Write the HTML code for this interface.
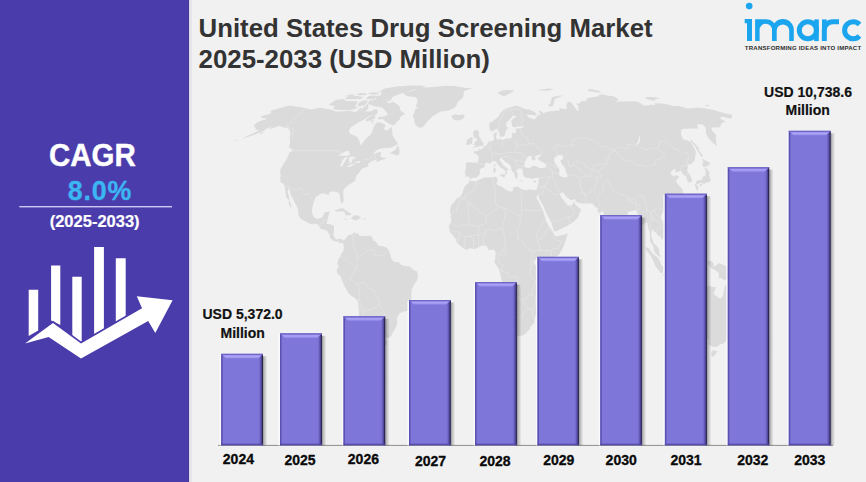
<!DOCTYPE html>
<html><head><meta charset="utf-8"><style>
html,body{margin:0;padding:0}
body{width:866px;height:482px;overflow:hidden;background:#f1f1f1;font-family:"Liberation Sans",sans-serif}
svg{display:block}
text{font-family:"Liberation Sans",sans-serif;font-weight:bold}
.yr{font-size:14px;fill:#0a0a0a;stroke:#0a0a0a;stroke-width:0.3px;text-anchor:middle}
.val{font-size:14px;fill:#111;stroke:#111;stroke-width:0.2px;text-anchor:middle}
</style></head><body>
<svg width="866" height="482" viewBox="0 0 866 482">
<defs>
<filter id="sh" x="-20%" y="-5%" width="140%" height="110%"><feGaussianBlur stdDeviation="1.3"/></filter>
<linearGradient id="body" x1="0" x2="1" y1="0" y2="0">
 <stop offset="0" stop-color="#786ed6"/><stop offset="0.5" stop-color="#7c73da"/><stop offset="1" stop-color="#776dd4"/>
</linearGradient>
<linearGradient id="redge" x1="0" x2="1" y1="0" y2="0">
 <stop offset="0" stop-color="#7e76d8" stop-opacity="0"/><stop offset="0.45" stop-color="#6a61c0"/><stop offset="0.72" stop-color="#4a4290"/><stop offset="0.85" stop-color="#2c2752"/><stop offset="1" stop-color="#262145"/>
</linearGradient>
<linearGradient id="shg" x1="0" x2="1" y1="0" y2="0">
 <stop offset="0" stop-color="#000" stop-opacity="0.38"/><stop offset="0.4" stop-color="#000" stop-opacity="0.18"/><stop offset="1" stop-color="#000" stop-opacity="0"/>
</linearGradient>
<linearGradient id="tbev" x1="0" x2="0" y1="0" y2="1">
 <stop offset="0" stop-color="#958ce8"/><stop offset="0.4" stop-color="#aca4f8"/><stop offset="0.75" stop-color="#9a92ec"/><stop offset="1" stop-color="#8179dc"/>
</linearGradient>
</defs>
<rect width="866" height="482" fill="#f1f1f1"/>
<!-- map -->
<path d="M261.3,116.1 265.5,115.0 269.7,114.2 271.4,111.9 270.1,111.0 277.6,108.7 286.0,106.3 290.4,105.4 294.7,106.3 300.7,107.3 305.8,108.3 310.6,109.6 320.3,107.7 325.6,108.7 331.0,109.6 335.5,111.5 341.9,111.5 349.2,110.6 354.5,111.9 360.7,110.6 363.5,107.3 366.9,104.8 368.4,104.1 368.4,105.5 368.3,107.3 367.8,109.0 365.0,111.5 370.2,111.5 376.1,108.7 377.9,111.5 376.6,114.4 370.0,115.4 364.6,119.3 358.6,122.3 350.9,127.3 349.0,130.4 349.8,133.6 354.3,135.6 357.7,137.3 359.7,142.0 360.8,145.8 365.7,138.8 370.8,134.6 372.9,129.4 374.2,125.7 376.9,122.3 381.5,122.7 385.5,125.3 384.1,129.4 387.1,130.4 391.7,126.7 392.3,131.5 392.7,135.6 393.9,137.7 396.8,142.0 397.9,144.1 395.5,145.4 390.1,148.0 384.0,148.0 379.9,148.8 376.3,150.6 372.8,153.9 381.2,151.7 380.4,154.9 380.9,157.1 385.3,158.0 387.2,157.1 385.0,158.9 380.7,160.2 376.4,162.4 376.8,159.3 375.3,160.0 372.1,161.1 369.5,162.4 367.8,164.8 368.5,166.6 365.9,167.3 361.3,169.0 360.3,171.5 358.5,173.0 355.7,177.0 355.4,180.8 352.5,182.6 349.5,184.2 344.5,188.2 343.1,191.5 343.5,197.1 343.7,200.5 342.5,203.4 341.2,202.9 340.4,199.8 339.8,197.1 339.8,194.5 338.4,192.7 335.3,191.8 332.1,191.3 329.3,192.2 329.3,194.7 327.2,194.5 324.8,193.6 321.5,193.6 319.6,194.5 315.5,197.6 313.9,201.8 312.7,206.1 312.0,209.4 312.3,213.7 313.6,216.8 315.5,218.1 317.1,219.0 320.7,218.1 322.5,217.2 324.1,213.2 324.9,212.3 330.1,211.7 328.8,215.0 327.8,218.8 326.3,223.9 330.3,224.2 333.9,225.7 334.0,230.7 333.3,235.1 336.0,239.6 340.4,238.5 344.1,240.7 342.8,242.9 340.2,242.9 338.4,243.4 339.4,241.2 336.8,241.8 333.3,240.7 329.7,237.4 329.7,234.7 327.1,230.7 323.7,229.5 320.3,228.4 318.1,224.8 315.7,223.5 312.1,224.6 308.8,223.3 304.8,221.0 300.8,218.8 298.2,215.0 298.4,211.7 297.4,207.6 295.5,203.8 293.8,200.5 292.0,197.1 290.3,193.8 289.8,190.0 288.1,188.6 287.6,191.5 288.9,196.0 289.5,200.5 291.0,205.0 291.7,208.3 290.7,207.2 288.6,204.3 289.0,200.5 286.1,197.1 285.6,192.7 284.8,187.1 283.7,183.7 280.7,182.4 280.3,178.2 280.6,175.3 280.1,171.5 280.4,169.3 282.4,165.9 285.1,161.5 287.8,156.7 289.7,151.9 292.1,151.7 292.2,149.5 290.6,148.4 288.8,146.7 290.0,144.1 290.2,139.9 289.6,137.7 290.4,133.6 289.6,130.4 287.1,127.7 282.6,127.3 279.4,125.7 272.7,128.2 268.7,129.0 271.8,126.3 266.5,128.8 262.4,131.5 257.4,133.6 252.4,135.6 247.3,137.1 242.4,138.4 246.9,136.1 254.9,132.5 259.6,130.0 255.6,129.8 255.6,127.7 253.8,126.3 254.8,124.3 259.4,121.3 266.8,119.3 265.5,118.1 261.1,118.1ZM344.1,240.5 345.6,238.5 347.5,236.2 348.8,234.9 351.9,234.5 354.7,232.0 355.3,233.6 356.9,233.8 357.3,232.4 359.7,236.0 364.0,236.0 367.5,235.8 371.0,235.8 372.6,238.5 373.4,240.7 375.9,241.8 378.4,245.8 382.8,246.3 386.2,247.4 388.8,249.9 390.4,255.2 391.3,258.6 393.9,261.9 398.3,261.9 401.8,265.3 405.3,266.0 409.7,266.4 413.2,269.8 417.1,271.5 418.0,276.5 417.4,279.8 414.4,284.3 412.0,288.7 411.3,293.2 411.3,298.8 410.3,304.4 408.9,308.9 407.3,311.1 403.1,311.8 399.8,313.3 396.9,317.8 397.2,323.4 395.6,327.9 392.4,333.4 391.2,336.1 389.0,337.9 387.3,337.7 383.4,336.8 385.9,340.8 387.0,341.5 386.5,345.0 384.3,346.1 379.6,346.8 380.0,350.1 376.0,351.3 378.6,354.6 378.6,360.1 375.9,363.4 379.3,366.6 377.5,371.4 377.9,374.8 379.3,376.3 380.9,380.6 385.7,381.2 384.2,383.7 379.3,381.7 374.3,378.5 369.9,375.3 364.7,366.6 365.4,362.3 363.0,357.9 363.1,353.5 360.7,346.8 360.3,342.4 360.2,337.9 360.7,333.4 359.4,326.7 359.1,320.0 359.0,313.3 358.5,304.4 357.6,300.6 354.7,298.1 349.1,293.9 346.6,289.9 344.2,285.4 341.1,277.6 339.3,275.3 337.1,273.1 336.8,269.3 338.5,267.3 338.6,265.3 337.2,264.2 338.0,260.8 338.9,258.6 340.7,256.3 341.0,254.1 343.4,251.2 343.9,246.3 342.9,243.6ZM470.0,179.7 468.1,183.7 465.4,185.5 463.0,190.4 463.2,191.8 460.2,196.7 457.2,198.3 454.6,201.2 450.9,206.1 449.9,211.7 451.1,214.6 450.6,216.4 451.3,219.5 450.7,222.8 448.5,226.9 449.6,229.5 449.6,232.2 451.8,234.0 453.5,236.2 455.7,239.1 456.9,242.9 460.3,245.8 465.5,249.9 469.9,248.3 475.1,249.0 480.4,246.3 483.9,245.4 486.5,245.8 488.7,250.1 490.8,249.9 493.5,249.6 495.2,251.2 495.7,254.1 495.2,257.5 494.9,260.8 494.0,261.9 496.9,265.7 499.2,269.3 499.9,272.9 501.6,279.4 502.7,283.8 500.4,289.9 499.2,298.4 501.2,303.3 503.8,310.6 504.9,320.0 507.0,323.6 508.3,327.9 509.7,333.0 509.9,336.1 512.5,337.5 516.7,335.7 521.7,335.7 524.2,334.6 526.8,332.3 529.5,329.4 531.3,325.6 534.0,323.4 534.7,318.2 535.1,316.2 539.3,313.6 539.3,308.9 538.6,304.4 541.6,301.7 546.1,297.7 548.8,293.2 549.1,284.3 547.4,277.6 547.5,273.1 547.0,270.2 549.3,265.3 551.1,263.5 553.7,258.6 558.9,254.6 562.4,249.0 564.9,242.9 567.0,236.2 567.8,233.3 563.8,234.7 556.0,236.5 553.7,234.0 553.0,231.8 551.2,229.3 548.5,225.7 546.4,221.7 544.7,216.8 543.7,212.8 542.7,210.1 540.7,206.1 538.1,200.7 535.5,196.2 534.0,192.9 535.1,195.8 536.9,197.6 537.9,193.8 536.6,189.8 533.3,190.0 529.4,189.3 526.1,190.4 521.1,189.1 517.7,186.6 513.0,187.5 512.8,190.9 510.3,191.8 505.2,189.3 501.0,186.2 497.7,185.3 496.4,183.3 497.7,180.4 496.6,177.3 495.2,176.4 492.8,177.3 487.9,177.5 484.6,177.5 479.7,179.5 476.0,181.3 471.4,181.0ZM564.3,286.5 565.9,294.3 564.3,297.7 562.1,305.5 559.3,315.1 555.8,316.9 553.9,314.4 553.0,308.9 554.9,304.4 554.6,298.8 557.4,295.5 560.9,292.8 562.8,289.9ZM470.5,179.3 469.4,177.5 467.7,176.6 465.2,177.0 465.6,173.7 464.5,173.0 465.7,169.3 466.1,165.9 465.5,163.7 467.7,162.2 472.4,162.6 477.4,162.8 478.3,160.4 478.7,156.7 477.2,154.7 473.8,153.0 473.5,151.7 476.2,151.0 478.3,151.2 478.9,149.1 481.1,149.5 483.2,148.0 483.6,146.3 486.3,145.4 487.9,143.1 488.7,141.4 491.6,140.9 493.8,140.7 494.0,137.9 493.5,134.6 494.0,133.4 496.8,132.1 496.8,134.6 496.0,136.7 497.2,139.9 499.7,138.8 502.7,140.1 505.6,138.8 508.5,138.2 510.0,139.0 512.0,136.7 511.8,134.0 513.2,132.5 515.4,133.6 516.3,130.9 515.0,129.0 518.4,128.2 521.2,128.2 523.9,127.3 521.7,126.3 518.3,126.5 514.2,127.5 512.0,125.9 511.8,123.3 511.2,120.7 512.8,119.3 515.3,117.5 516.4,116.3 514.7,115.8 512.1,116.1 511.1,118.3 508.8,120.3 506.9,122.1 506.1,125.3 506.2,126.5 508.3,127.7 506.7,129.4 505.3,132.5 505.0,135.2 502.6,136.7 500.1,136.7 499.6,134.6 498.5,132.1 497.6,129.4 496.7,128.4 495.3,129.4 492.5,131.5 490.1,130.4 489.5,128.4 489.1,125.3 489.5,122.7 492.0,121.7 494.0,120.3 496.0,118.7 498.7,116.3 499.9,113.5 501.8,111.5 503.7,110.0 506.1,108.7 509.2,107.7 512.2,106.8 515.6,105.7 518.3,105.9 521.7,107.2 522.4,108.1 525.1,108.9 529.0,109.4 534.6,111.9 536.7,114.0 535.4,115.4 532.1,115.0 528.7,114.8 526.7,114.4 528.5,117.3 530.7,118.1 532.8,118.7 533.6,119.5 536.1,118.3 536.5,117.3 537.9,114.8 540.6,115.0 538.9,111.2 540.1,110.6 542.4,111.9 543.5,113.6 545.7,112.3 551.1,111.0 553.0,111.2 556.6,110.4 559.3,110.8 559.6,108.1 564.3,108.9 566.7,108.7 566.9,106.4 566.2,105.5 567.1,103.2 567.7,101.9 569.4,101.7 572.2,103.2 573.3,105.5 574.7,107.3 577.0,110.4 578.6,111.5 578.4,110.6 578.5,105.9 575.9,103.5 579.4,103.4 581.0,101.4 583.4,101.0 587.2,100.5 586.0,98.7 589.2,97.7 594.3,96.9 598.4,96.4 599.1,94.7 602.3,94.2 605.5,94.9 608.1,95.7 612.4,96.0 616.2,97.4 618.8,100.5 616.3,101.0 615.3,101.9 619.6,101.4 625.6,101.4 631.4,101.2 636.2,101.2 639.5,102.6 643.6,105.4 646.7,105.4 651.0,104.8 655.1,105.2 654.7,103.2 661.8,103.5 668.0,104.6 672.9,106.1 678.2,105.9 683.9,107.3 686.5,108.5 690.0,108.3 694.8,108.1 697.3,107.5 703.9,108.3 708.6,109.0 712.8,109.8 720.0,111.9 725.2,113.5 730.4,114.4 732.7,115.4 731.7,116.3 732.1,117.7 730.4,118.5 724.3,117.3 721.8,116.3 720.8,117.7 719.0,117.9 723.1,120.3 725.9,121.7 723.4,122.3 721.5,123.7 720.8,124.9 720.0,127.3 713.9,127.5 711.3,127.7 712.3,131.1 713.8,131.9 716.2,135.2 715.7,138.8 716.3,142.2 716.8,146.3 712.9,143.1 709.1,138.8 706.2,134.6 706.0,131.9 705.3,127.3 702.3,124.3 697.4,124.3 697.9,128.4 692.3,128.4 685.6,128.8 683.1,128.8 681.1,130.2 681.0,134.6 683.1,139.2 688.7,140.9 690.8,142.2 693.2,146.3 695.9,151.7 695.5,154.9 694.7,160.4 691.0,164.2 688.7,164.2 687.9,165.3 687.7,168.1 687.0,170.8 690.9,177.0 692.3,180.4 691.3,181.7 688.4,182.8 687.2,180.4 686.9,177.5 685.1,175.5 683.2,174.8 681.1,171.0 677.4,171.7 676.2,173.0 674.7,168.4 672.4,170.6 670.7,172.4 670.7,173.9 673.8,176.6 676.1,175.3 679.5,176.6 676.9,179.3 676.0,181.7 679.4,186.0 682.6,188.9 682.9,192.0 684.2,193.8 683.9,197.1 682.1,202.5 679.8,205.0 677.8,208.3 673.8,209.9 670.5,211.2 668.0,212.3 667.6,214.3 666.7,211.7 663.7,211.4 661.8,213.9 660.7,217.2 662.3,220.6 665.3,223.9 667.9,229.5 668.3,233.6 666.3,235.6 664.2,236.5 661.8,240.3 660.9,237.6 660.0,236.5 657.6,235.1 656.2,232.4 653.7,231.3 652.9,229.5 652.0,230.0 651.1,236.2 652.5,239.1 653.4,242.9 654.6,244.5 656.8,245.8 659.0,249.6 659.3,253.4 660.6,256.6 659.4,256.8 656.7,254.6 655.4,253.2 653.8,250.3 653.5,246.7 650.2,241.8 650.0,237.8 649.8,233.3 648.5,229.5 647.2,222.8 645.3,222.6 643.6,224.4 641.5,223.9 641.8,220.6 640.0,216.8 637.1,213.2 635.8,209.9 633.7,210.5 631.2,211.2 627.8,211.7 627.9,213.9 624.9,216.6 622.6,219.5 620.6,222.4 617.5,224.4 617.7,229.5 617.3,234.5 616.5,236.7 614.8,239.8 613.6,241.6 611.8,239.8 610.3,234.7 608.2,230.7 606.3,225.1 604.4,218.4 603.5,212.8 603.0,211.0 599.7,213.2 596.9,209.9 598.5,208.5 595.8,207.2 594.0,206.1 592.2,203.2 588.7,203.4 583.6,203.4 579.3,202.9 576.3,201.8 574.8,199.1 571.4,200.3 567.8,198.0 565.0,195.1 563.1,192.2 561.1,192.7 559.9,193.8 561.0,197.1 564.1,200.5 565.4,203.8 566.6,201.8 566.8,205.0 571.0,205.8 573.4,203.2 574.5,200.9 575.0,204.1 577.5,206.5 581.1,209.4 579.2,213.9 578.1,217.2 576.1,219.5 573.7,221.7 569.0,224.8 563.6,227.7 556.8,231.1 554.2,231.3 552.5,226.6 551.6,223.1 549.2,218.4 546.7,214.1 544.9,209.9 543.6,206.3 541.4,202.5 538.9,198.0 537.9,193.8 536.6,189.8 537.5,187.1 538.2,184.0 538.6,180.4 538.9,177.9 537.8,177.9 536.1,177.5 532.9,179.0 529.6,177.9 527.1,177.9 524.3,177.0 522.8,174.1 523.2,171.5 522.1,170.4 522.9,169.5 522.1,169.0 520.9,168.4 518.5,168.6 517.8,169.9 516.3,169.3 516.4,171.5 517.5,173.7 518.8,174.4 517.2,175.3 517.7,178.2 516.4,178.4 515.2,177.5 514.3,175.3 514.7,173.9 513.5,172.6 512.2,171.0 511.2,169.5 511.2,167.0 509.6,164.8 507.1,162.8 505.2,162.0 503.9,160.2 502.3,159.1 501.7,157.8 499.8,158.4 500.0,160.6 501.7,162.6 503.2,165.5 505.6,167.0 508.9,169.3 509.7,170.1 507.3,169.3 506.5,171.2 507.5,172.6 505.8,174.8 505.1,174.1 505.6,171.5 503.3,169.0 500.9,167.5 498.0,165.1 496.9,163.7 496.1,161.5 493.7,160.9 492.1,162.0 489.7,163.5 487.4,162.6 485.0,163.3 485.2,165.9 483.3,167.7 481.3,168.1 479.4,171.5 480.2,173.0 478.6,175.7 476.3,177.7 472.5,177.7ZM421.3,127.7 423.8,126.3 426.6,122.3 432.7,116.3 440.8,111.5 448.8,110.6 454.6,107.7 456.6,105.0 458.2,101.4 462.8,97.8 463.8,94.5 463.7,91.2 468.1,89.4 472.7,88.4 464.5,87.8 454.9,86.1 444.7,85.8 433.5,87.1 422.4,87.8 419.7,88.4 413.1,89.8 403.7,92.9 404.4,94.5 407.6,96.2 415.0,97.0 417.2,98.7 417.5,102.3 415.5,105.9 418.2,107.7 414.8,109.6 414.7,112.5 412.7,115.4 414.2,119.3 414.4,122.3 415.9,125.3 418.6,127.3ZM453.1,119.3 451.2,116.3 454.2,114.4 459.4,115.0 463.4,114.4 464.9,116.9 462.6,118.9 458.3,120.5 454.4,119.7ZM395.8,124.1 392.8,125.3 389.4,124.1 385.9,121.7 383.2,119.3 377.7,119.3 378.4,117.0 385.0,116.3 388.0,114.1 386.7,112.5 382.9,108.0 379.2,106.8 374.5,106.2 370.6,104.7 374.8,99.2 381.5,98.7 388.2,99.2 392.1,101.5 396.3,103.6 399.6,106.2 400.2,110.2 404.9,114.1 400.2,117.0 399.8,119.3 395.6,122.9ZM390.8,97.7 377.8,97.1 381.7,94.2 381.6,91.3 385.2,88.4 396.3,86.6 409.8,85.5 421.8,85.6 425.7,86.7 418.8,88.8 410.0,91.3 401.4,93.6 394.3,96.2ZM382.3,93.7 379.7,91.3 384.7,88.5 389.9,88.8 388.1,91.3ZM390.8,99.7 378.0,99.9 375.9,97.9 372.6,95.9 381.2,95.5 391.0,96.5 392.4,97.9ZM373.3,104.4 366.8,104.4 370.0,100.2 376.4,100.2ZM364.6,105.3 357.7,106.4 358.0,103.2 362.8,100.4 368.5,100.4ZM357.7,108.0 351.0,109.9 340.5,109.9 332.9,109.2 335.4,104.9 341.4,102.1 349.7,101.0 358.0,101.2 355.4,105.9ZM333.3,106.1 328.8,104.4 336.0,100.1 342.8,99.0 346.8,101.2 340.4,104.4ZM361.1,98.9 354.4,99.3 344.5,98.9 348.7,96.3 357.4,95.9 362.9,96.9ZM374.4,99.3 365.7,98.9 368.6,96.0 373.8,95.6 375.8,97.3ZM352.7,96.3 344.5,96.3 351.6,94.2 354.8,94.8ZM375.4,94.8 367.3,93.8 371.9,92.2 376.4,92.8ZM373.8,99.6 370.2,98.9 372.2,97.7 375.0,97.9ZM366.2,95.0 358.6,95.2 356.2,94.0 361.1,92.9 366.6,93.6ZM377.9,94.2 374.9,94.0 377.6,92.2 379.1,92.6ZM369.4,121.8 373.5,121.8 373.7,120.2 371.1,120.4ZM371.1,124.2 373.8,123.7 373.4,122.6ZM386.7,102.6 390.5,103.2 392.7,101.3 388.8,100.8ZM365.9,119.5 370.6,116.0 374.8,114.4 375.4,118.3 371.2,120.0 366.3,121.4ZM357.0,110.8 360.5,111.0 363.3,108.5 360.8,107.8ZM389.3,153.6 395.7,149.5 397.9,145.0 399.5,149.5 399.4,153.9 397.2,155.6 394.8,154.9 392.1,153.6ZM333.8,210.8 339.0,209.0 342.5,208.1 346.4,211.0 349.3,212.6 351.6,214.6 349.3,215.2 345.6,215.2 344.6,211.7 339.6,211.2 337.3,211.7ZM350.9,218.4 354.0,215.2 358.7,215.7 361.2,218.1 358.4,219.0 355.9,220.4 350.9,218.8ZM344.2,218.6 347.6,219.0 346.6,219.7 344.6,219.5ZM363.3,218.4 366.0,218.6 365.6,219.5 363.2,219.5ZM472.2,148.4 476.4,147.1 483.0,145.8 483.7,142.9 481.7,141.6 481.2,139.4 479.3,136.7 478.7,135.2 479.2,132.3 477.7,130.2 474.8,130.2 472.9,132.5 473.5,135.0 474.2,137.7 476.7,138.4 476.9,140.9 474.5,141.4 474.9,143.1 473.2,144.6 475.8,145.4ZM472.2,143.7 472.2,140.3 473.0,137.9 470.9,137.1 469.0,138.8 466.6,139.9 467.2,142.0 465.7,144.3 468.3,145.0ZM497.1,92.9 502.5,90.4 506.8,90.0 514.5,90.4 509.5,93.7 504.1,96.2 500.0,94.5ZM547.8,105.0 550.7,103.2 551.1,99.6 552.8,97.0 559.8,95.4 562.9,95.7 554.8,98.7 553.8,103.2 552.6,106.4 549.5,106.3ZM589.0,91.2 595.3,92.1 601.7,92.9 598.0,90.4 590.0,89.1 587.5,89.8ZM536.2,90.4 541.0,89.4 549.0,88.4 553.9,89.4 548.1,90.4 541.7,90.6ZM645.4,98.7 653.8,100.8 657.1,98.7 660.2,98.3 653.5,97.0 646.5,97.0ZM704.4,105.5 707.0,104.8 710.5,105.9 707.3,106.3ZM701.4,157.1 703.1,156.0 698.4,149.5 699.2,148.4 692.4,140.9 690.4,139.2 690.4,140.9 695.0,146.3 698.8,152.8ZM703.6,167.0 705.2,166.4 708.2,165.9 710.4,163.1 706.9,161.3 701.8,158.2 703.7,162.6 702.0,163.1 702.5,164.8ZM695.9,183.7 696.6,180.6 699.7,180.2 702.6,179.3 702.7,176.4 705.3,175.9 705.8,171.5 704.6,168.8 705.1,167.0 707.2,169.3 709.6,172.6 708.9,174.8 710.2,178.2 710.8,181.0 709.8,181.5 708.5,182.4 705.5,182.4 704.7,184.8 702.9,183.3 699.9,182.8 697.9,184.2ZM694.5,184.8 696.1,184.0 698.3,187.1 698.1,190.0 696.9,190.4 695.5,187.1ZM699.3,186.0 700.3,184.0 702.2,183.7 702.3,185.1 700.3,186.4ZM684.7,203.4 686.5,203.8 686.3,208.3 685.5,210.5 683.9,208.3ZM665.5,216.8 668.5,214.8 669.5,215.9 667.5,219.0 665.7,218.4ZM617.6,237.8 619.6,240.3 621.3,244.1 619.9,246.1 618.1,245.8 617.6,241.8ZM686.3,218.4 689.2,218.4 689.5,221.7 688.8,225.1 690.0,228.4 693.7,230.7 691.8,229.5 688.3,228.9 687.3,227.3 685.6,223.5 686.6,222.8ZM691.2,244.1 693.7,242.3 697.0,238.5 698.9,241.8 698.6,245.6 697.0,247.2 694.8,245.2ZM691.6,236.2 693.2,235.1 695.7,233.3 696.1,237.4 692.7,238.9ZM682.7,240.9 686.2,234.5 686.8,235.6 683.7,240.9ZM644.8,247.2 648.7,248.1 650.9,251.2 653.9,254.8 655.8,255.9 658.5,258.6 660.2,261.9 661.4,265.3 663.6,266.9 663.1,272.7 660.8,272.9 657.1,268.6 654.9,265.3 653.8,261.9 651.5,257.5 650.2,254.8 647.0,251.2ZM662.0,274.9 664.3,273.1 667.4,273.8 671.2,275.1 674.8,275.1 678.1,276.9 677.8,279.1 671.9,278.0 667.6,277.1 664.0,276.2ZM678.9,278.0 680.6,278.5 685.8,278.2 685.8,279.4 680.5,279.6 678.8,279.4ZM687.2,278.5 692.8,278.0 692.7,279.1 687.2,279.4ZM693.4,282.5 699.8,278.2 696.2,279.8ZM669.0,256.3 670.0,255.2 672.4,256.3 675.9,252.5 677.9,249.4 680.1,248.1 682.2,244.1 683.8,246.3 686.6,248.1 684.5,250.1 684.3,255.2 686.4,257.7 683.9,259.7 683.0,261.9 682.0,265.3 681.1,268.2 678.4,268.6 675.9,266.9 673.2,267.5 671.0,266.2 670.7,263.1 669.0,259.7ZM686.2,272.0 688.6,272.0 688.8,266.4 689.8,266.0 691.5,270.2 693.6,270.4 692.4,266.4 690.6,263.7 693.4,261.7 690.0,260.8 688.2,258.6 690.8,257.5 694.3,257.7 696.9,256.3 695.9,258.6 692.6,258.6 689.1,258.8 687.9,261.5 686.0,265.7 687.0,267.5ZM701.3,256.3 703.0,257.5 702.2,261.5 701.0,258.6ZM702.0,266.4 706.4,266.4 706.9,268.2 702.5,267.7ZM707.4,262.4 709.2,260.6 712.6,261.7 714.2,267.1 718.7,263.1 723.9,265.1 729.9,268.2 732.9,271.5 735.8,273.6 736.4,277.6 739.4,282.7 735.2,282.0 732.8,278.0 729.4,277.1 727.5,279.8 724.0,280.0 720.7,277.8 718.9,278.5 718.9,273.1 714.2,269.5 711.6,268.6 709.9,266.4ZM740.2,272.0 743.9,269.1 742.8,272.0 741.0,273.8ZM674.1,308.4 672.0,314.4 672.1,318.9 672.4,325.6 672.2,330.8 669.9,334.6 669.4,336.6 673.5,338.1 678.0,335.4 683.7,335.4 689.0,331.9 694.5,330.3 698.2,330.1 702.3,333.0 702.9,337.5 706.8,333.4 706.1,339.0 708.6,339.7 708.1,344.6 712.2,346.4 716.4,347.0 720.5,344.1 724.0,343.5 728.4,336.8 731.0,333.0 735.0,329.0 737.9,323.4 738.8,316.7 736.4,312.2 734.5,309.3 733.6,305.1 730.7,302.2 730.1,295.5 730.1,292.8 727.4,291.0 726.3,283.6 724.3,287.6 723.5,293.2 721.4,298.6 718.5,297.7 715.4,295.5 713.6,293.2 716.0,287.0 712.9,287.0 708.7,285.4 706.0,287.0 704.0,289.4 702.8,293.0 699.5,291.0 696.5,291.9 693.8,295.5 691.0,296.6 687.9,301.0 683.1,304.4 678.6,306.0 674.9,307.7ZM712.1,350.6 717.6,351.0 714.6,355.7 711.9,357.0 711.1,354.1ZM764.6,336.6 765.2,341.2 765.6,343.5 770.2,343.9 765.9,347.3 763.7,349.7 759.7,352.6 759.3,351.7 762.0,349.0 760.6,347.5 764.1,343.5 764.3,338.4ZM757.3,350.1 758.1,352.8 753.4,356.8 749.3,358.8 745.9,362.1 742.5,363.6 739.5,362.3 741.6,360.1 745.6,357.9 750.3,355.4 754.7,352.4ZM500.0,174.6 505.1,174.1 504.4,177.7 500.1,175.7ZM493.5,168.1 495.7,168.1 495.4,172.4 493.5,172.8ZM493.8,164.0 495.1,163.7 495.3,166.2 494.3,167.3ZM518.2,180.4 522.9,180.8 522.4,181.5 518.4,181.0ZM532.8,181.5 536.5,179.9 535.6,181.9 533.7,182.4ZM260.3,133.1 265.3,131.7 263.1,133.1 259.9,134.4ZM236.5,139.9 239.2,139.4 237.4,140.5 233.9,141.1 230.9,142.2 232.2,141.4Z" fill="#dbdbdb" fill-rule="nonzero"/>
<path d="M524.8,166.8 526.4,167.7 529.7,167.9 532.7,165.9 535.9,165.9 539.3,167.9 543.3,168.1 546.4,167.0 546.2,164.8 543.4,162.6 540.0,160.4 538.3,158.9 537.4,158.4 536.0,159.1 533.8,160.6 532.8,160.2 531.2,158.4 532.6,157.1 529.4,155.8 527.9,156.5 526.8,158.7 525.4,160.6 524.6,163.7 524.4,165.9ZM535.1,158.4 537.4,158.4 540.3,156.0 541.1,154.5 537.8,155.2 534.9,156.5ZM556.5,156.0 554.5,158.0 554.2,160.9 555.4,163.7 557.4,166.4 559.6,169.7 559.1,172.6 559.2,173.9 559.7,175.7 561.8,176.8 563.9,177.5 567.6,177.3 567.6,175.3 565.8,171.9 565.0,168.6 564.0,166.4 561.4,163.5 560.4,160.4 563.3,158.7 563.0,155.6 559.7,154.7 557.3,155.8ZM338.1,155.6 343.2,152.8 346.0,151.0 349.3,151.2 349.8,154.9 345.6,156.0 342.8,155.4ZM340.1,166.6 342.1,166.4 344.2,162.6 347.2,158.2 348.5,157.3 345.0,157.6 342.2,160.4ZM348.7,157.6 349.8,163.7 351.3,162.4 352.8,158.7 355.6,158.2 354.7,156.7 350.8,156.7ZM346.8,166.8 349.1,167.3 354.9,164.4 354.3,164.0 350.9,164.6ZM354.1,163.1 359.9,162.8 360.2,161.1 355.8,162.0ZM533.8,260.4 537.8,259.0 538.2,261.9 536.6,265.5 534.0,263.7ZM636.5,145.0 638.0,144.3 639.8,142.0 640.3,136.3 639.3,135.9 638.5,140.9 636.4,144.1Z" fill="#f1f1f1"/>
<path d="M292.6,150.6 335.6,150.6 336.0,149.8 336.1,151.2 338.5,151.5 340.3,152.6 343.1,152.8M363.4,159.3 368.5,159.3 369.5,158.7 371.0,157.3 372.1,155.6 374.0,154.0 375.3,154.2 375.9,154.7 374.8,157.8 375.4,159.1M305.7,108.4 286.0,126.7 288.8,126.7 288.4,129.4 292.7,127.7 293.1,130.7 292.2,135.6 293.4,135.9 291.8,137.7M284.8,187.1 289.0,186.6 288.6,187.1 294.1,189.8 298.8,189.8 299.1,188.6 301.9,188.6 303.8,193.6 306.0,194.9 307.7,192.9 309.1,193.1 311.2,198.3 314.3,201.8M319.2,227.3 319.4,225.5 320.5,223.7 322.7,223.7 323.2,219.9 325.4,219.9 327.0,218.4M388.6,250.3 384.3,254.8 380.0,255.5 374.4,255.7 373.9,249.6 369.0,250.8 366.1,250.5 361.6,255.2 357.2,257.5 356.7,269.1 351.5,276.0 350.1,276.5 352.6,280.9 356.2,284.3 358.0,284.1 363.0,281.8 365.2,283.8 367.7,287.6 374.0,290.5 374.9,295.9 378.0,296.1 379.4,304.8 383.3,309.5 384.5,313.3 386.4,316.9 388.2,320.3 384.9,323.4 382.8,327.2 385.9,328.7 391.2,335.0M359.1,298.8 361.9,308.9 364.3,310.6 362.8,314.4 363.3,320.0 362.2,326.7 363.3,333.4 364.1,340.1 364.7,346.8 366.0,353.5 367.3,357.9 368.8,364.5 369.8,369.9 372.7,374.2 376.6,375.3M382.8,327.2 380.8,320.5 384.5,313.3M372.0,309.3 379.4,304.8M372.0,309.3 364.3,310.6M356.7,269.1 347.2,259.9 341.0,256.6M357.2,257.5 353.2,244.1 352.8,234.9M358.0,284.1 359.5,293.9 359.1,298.8 357.7,300.6M476.6,181.5 476.6,187.1 473.6,188.9 470.9,192.7 464.6,195.6 464.5,197.8 456.9,197.8M493.6,177.3 493.1,182.4 495.2,188.0 496.1,192.2 495.2,199.4 496.1,205.0 499.3,207.2M521.2,189.1 521.7,210.5 542.1,210.5M499.3,207.2 504.6,208.3 520.1,216.1 520.1,215.0 521.8,215.0 521.7,210.5M449.9,212.1 456.7,212.1 456.8,208.3 458.6,207.2 458.8,201.6 464.5,198.7 470.9,203.8 481.0,213.2 486.1,216.8 499.3,207.2M470.9,203.8 468.0,204.1 469.3,225.1 458.9,225.1 457.7,227.1 450.3,223.3M486.1,216.8 486.1,223.1 479.1,226.4 469.3,225.1M504.6,208.3 505.5,213.9 502.3,228.4 503.4,231.8 504.8,237.4 505.7,242.9 503.9,249.6 506.6,254.8 501.8,254.8 498.3,254.8M520.1,216.1 520.3,224.6 517.7,228.2 516.9,231.3 518.5,235.1 517.0,239.6 521.3,239.8 526.6,248.1 533.1,251.2 537.1,251.2 540.6,248.5 537.8,240.7 536.0,232.9 541.9,227.7 542.6,221.7 545.3,219.5M537.1,251.2 538.0,250.3 551.7,250.8 550.2,263.5M551.7,250.8 553.6,248.5 557.1,248.5 562.1,241.8 555.2,239.6 553.0,235.1M537.8,240.7 543.9,236.2 548.0,227.3 552.3,231.8M533.1,251.2 530.3,262.8 531.9,266.4 529.7,273.1 531.8,278.2 535.9,280.7 539.5,285.4 549.1,283.2M530.3,262.8 537.8,261.9 544.3,266.4 547.0,270.2M503.9,249.6 495.4,254.6M498.3,254.8 498.3,262.4 503.1,264.8 501.3,270.4 499.9,272.9M501.3,270.4 507.4,272.9 510.0,277.6 516.6,276.0 517.8,284.3 520.4,284.3 520.3,288.7 516.9,288.7 516.8,295.9 519.2,299.0 522.4,299.5 525.3,299.7 528.9,295.0 531.3,294.6 535.9,280.7M499.0,298.4 501.2,297.7 510.7,298.6 515.0,299.9 514.9,308.9 513.2,308.9 513.1,315.1 512.9,323.2 507.0,323.6M513.1,315.1 516.4,317.8 522.4,316.7 524.9,310.6 529.2,309.1 532.5,309.8 533.3,319.6 534.8,319.8M522.4,299.5 525.2,305.5 529.2,309.1M532.5,309.8 535.6,303.3 535.4,297.0 531.3,294.6M535.4,297.0 540.2,292.1 539.5,285.4M484.9,245.4 483.4,239.6 485.0,233.6 486.0,229.5 489.1,229.1 493.5,230.7 497.5,229.8 502.3,228.4M483.4,239.6 481.1,246.1M478.7,235.1 478.3,247.0M473.7,248.5 473.8,238.5 469.1,236.2 464.8,236.9 464.0,242.9 465.5,249.9M464.8,236.9 459.6,232.4 455.0,231.5 449.8,232.0M459.6,232.4 458.7,240.7 455.7,239.1M478.7,235.1 469.1,236.2M479.1,226.4 477.8,235.1 480.3,235.1 482.2,232.9 485.0,233.6M477.4,162.8 485.3,165.1M484.8,146.1 490.3,149.5 492.4,153.6 491.4,157.6 492.1,162.0M490.3,149.5 490.2,146.9 490.1,144.3 491.6,140.9M492.4,153.6 496.8,153.9 500.7,153.9 506.8,152.8 515.2,152.1 517.6,153.0 521.5,152.3 524.4,157.1 526.8,158.7M502.1,146.5 502.2,140.1M515.9,140.1 516.4,145.2 517.2,147.3 515.1,150.6M501.7,157.8 506.1,156.0 509.8,157.3 514.9,160.6 516.4,165.3 513.0,168.1M514.9,160.6 522.0,161.5 525.4,162.2M524.8,166.8 522.0,166.4 516.4,165.3M523.9,127.3 520.7,123.3 522.7,120.3 521.0,115.4 521.8,112.1 519.5,109.6 521.7,107.2M514.7,115.8 513.7,113.5 509.4,109.6 516.0,109.0 519.5,109.6M499.7,135.6 498.7,129.4 500.0,125.3 498.8,122.1 501.4,118.5 504.7,110.8 509.4,109.6M521.3,128.4 521.0,132.5 522.3,135.4 526.2,136.5 527.8,139.4 528.6,143.9 534.0,143.5 539.0,148.4 541.7,149.5 542.2,153.2 539.6,154.7M516.4,145.2 520.0,144.3 527.0,145.6 528.6,143.9M537.4,158.4 540.1,161.1 543.3,162.8 548.3,164.0 554.2,166.2 556.5,167.7M546.4,167.0 549.7,167.9 552.2,171.0 552.2,176.8 548.8,176.8 541.8,177.5 538.9,177.9M548.8,176.8 547.2,182.8 544.3,187.5 541.0,188.2 538.7,186.6M547.2,182.8 543.8,185.1 541.1,189.3 544.7,192.7 542.2,192.9 539.8,194.5 537.9,193.8M552.2,171.0 553.5,172.8 557.7,173.9 559.2,173.9M552.2,176.8 553.5,179.9 555.4,181.5 556.0,186.0 559.7,191.5M544.3,187.5 549.5,190.2 554.4,194.5 557.4,194.7 559.9,193.8M566.8,205.0 573.9,209.0 573.6,215.0 568.3,217.2 570.4,222.6M553.4,220.6 558.6,221.3 563.3,218.1 568.3,217.2M567.6,176.4 570.8,175.0 573.3,175.0 579.5,177.9 580.2,182.6 580.0,185.7 581.0,189.3 582.3,189.5 581.5,193.1 584.3,194.0 586.6,200.5 584.1,203.8M581.5,193.1 586.8,194.0 590.5,192.9 590.5,190.4 594.4,189.1 595.4,184.8 597.1,182.8 596.6,177.9 601.3,177.0M579.5,177.9 585.0,176.8 589.0,176.4 593.8,175.9 596.6,177.9M592.2,203.2 595.8,206.7 599.9,205.2 597.3,197.6 600.9,192.7 603.7,189.3 603.2,186.6 604.4,184.2 607.5,180.4M607.5,180.4 610.1,184.4 610.5,188.2 615.1,192.2 619.2,193.8 627.8,197.4 629.2,198.7 634.9,199.6 639.0,194.9 643.2,196.5 644.6,202.7 646.9,205.8 646.8,210.5 650.3,211.9 652.2,211.9 653.6,209.6 658.6,207.6 661.1,208.8 663.7,211.4M627.8,197.4 628.2,200.7 631.4,201.6 635.5,203.8 637.4,212.8M634.9,199.6 637.7,203.8 640.1,205.6 639.7,208.3 638.3,210.5 637.5,212.1M652.2,211.9 650.6,214.1 651.6,220.6 648.7,222.2 650.2,226.2 649.8,233.3M650.6,214.1 652.9,216.1 652.6,220.4 655.3,219.7 659.5,222.8 661.2,227.7 657.1,228.0 656.4,232.2M653.6,209.6 655.8,213.2 659.2,217.7 662.6,222.8 664.8,227.5 665.2,232.2 661.1,235.6M554.2,166.2 556.5,167.7M554.5,158.0 556.5,156.0 557.3,151.7 552.7,147.6 557.4,144.8 563.9,146.7 570.9,144.8 573.7,146.7 571.9,143.1 572.6,140.1 576.5,138.6 581.9,137.1 589.5,140.1 593.7,139.6 596.1,142.0 601.5,146.7 606.5,146.3 610.9,149.5 613.9,150.2M613.9,150.2 617.1,147.8 620.5,146.9 628.8,148.6 627.9,144.1 634.3,145.2 642.0,147.8 646.1,149.9 653.4,147.8 657.9,148.6 658.8,144.1 660.1,141.4 668.2,142.4 674.4,148.8 680.1,150.8 682.3,153.4 685.7,152.8 687.7,152.1 688.6,159.3 685.9,159.5 687.8,164.0 687.7,165.1M613.9,150.2 608.8,154.5 609.2,158.2 605.7,159.3 607.2,164.8 601.2,169.0 598.5,171.5 601.3,177.0M598.5,171.5 593.6,171.2 591.8,170.1 593.6,168.1 596.4,164.6 604.6,164.0 607.2,164.8M567.9,159.3 569.4,167.5 573.1,164.2 576.2,160.6 578.5,162.8 582.6,162.2 585.3,166.2 589.9,168.8 591.1,168.6 592.8,166.8 594.6,165.9 596.4,164.6M564.5,165.7 567.6,176.4M569.4,167.5 572.3,164.8 575.7,165.9 578.2,167.5 580.3,170.4 583.6,173.0 588.1,176.1M590.4,176.8 590.9,174.4 588.8,171.9 591.8,170.1M613.9,150.2 622.1,157.1 622.1,159.3 630.5,161.1 634.0,164.4 647.7,166.8 654.8,164.6 655.9,159.8 661.5,158.2 665.3,154.9 657.9,148.6M680.4,170.4 681.9,166.6 683.9,165.9 687.7,165.1M684.9,175.0 687.9,173.5" fill="none" stroke="#e8e8e8" stroke-width="0.6" stroke-linejoin="round"/>
<!-- left panel -->
<rect x="0" y="0" width="188" height="482" fill="#4b3cab"/>
<rect x="188" y="0" width="1" height="482" fill="#453a8c"/>
<rect x="189" y="0" width="1.5" height="482" fill="#dcd8f6"/>
<rect x="190.5" y="0" width="1.5" height="482" fill="#e6e6e8"/>
<text x="49" y="165.8" font-size="31.5" fill="#fff" stroke="#fff" stroke-width="0.4" textLength="86.8" lengthAdjust="spacingAndGlyphs">CAGR</text>
<text x="67.8" y="199.6" font-size="26.8" fill="#3cb5f3" stroke="#3cb5f3" stroke-width="0.3" textLength="63.6" lengthAdjust="spacing">8.0%</text>
<rect x="19.3" y="206" width="152.7" height="1.4" fill="#cfc8f4"/>
<text x="94.65" y="227" font-size="16.5" fill="#fff" stroke="#fff" stroke-width="0.2" text-anchor="middle">(2025-2033)</text>
<!-- icon -->
<g fill="#fff">
 <polygon points="28.7,289.8 38.2,289.8 38.2,330.5 28.7,336"/>
 <polygon points="51.1,265.6 60.3,265.6 60.3,325 51.1,320.5"/>
 <polygon points="72.3,276.8 81.7,276.8 81.7,344.5 72.3,336"/>
 <polygon points="94.1,247 103.9,247 103.9,332.5 94.1,338"/>
 <polygon points="115.8,258.2 125.7,258.2 125.7,319.5 115.8,325"/>
 <polygon points="25,343.6 53,323 81,343.6 142,308.2 136.8,296.2 172.6,300.3 155.3,333 148.2,321 81,358.5 48.6,337" stroke="#4b3cab" stroke-width="3.5" stroke-linejoin="miter" paint-order="stroke"/>
</g>
<!-- title -->
<text x="198.6" y="36.8" font-size="26.3" fill="#333" textLength="454" lengthAdjust="spacingAndGlyphs">United States Drug Screening Market</text>
<text x="198.6" y="67.8" font-size="26.3" fill="#333" textLength="291.2" lengthAdjust="spacingAndGlyphs">2025-2033 (USD Million)</text>
<!-- logo -->
<g fill="#1aa5ee">
 <circle cx="749.2" cy="6.1" r="3.3"/>
 <path d="M744.7,19.1 H752 V41.1 H747 V23.3 H744.7 Z"/>
 <path d="M755.1,41 V19.2 H766 A10.8,10.8 0 0 1 776.7,30 V41 H772 V30 A6.2,6.2 0 0 0 759.6,30 V41 Z"/>
 <path d="M772,30 A10.8,10.8 0 0 1 793.8,30 V41 H789.2 V30 A6.3,6.3 0 0 0 776.7,30 Z"/>
</g>
<g fill="none" stroke="#1aa5ee" stroke-width="5">
 <circle cx="807.85" cy="30.25" r="8.55"/>
 <path d="M824.3,41.1 V30 A8.3,8.3 0 0 1 832.6,21.7 H839"/>
 <path d="M859.5,24.5 A8.55,8.55 0 1 0 859.5,36"/>
</g>
<rect x="814.2" y="19.4" width="4.6" height="21.7" fill="#1aa5ee"/>
<rect x="822" y="19.4" width="4.6" height="10" fill="#1aa5ee"/>
<text x="744.8" y="49.9" font-size="6.1" fill="#2e2e2e" letter-spacing="0.19">TRANSFORMING IDEAS INTO IMPACT</text>
<!-- axis -->
<rect x="218" y="444.9" width="615" height="1" fill="#8e8e8a"/>
<!-- bars -->
<rect x="219.6" y="354.8" width="1.6" height="90.5" fill="#fafaff" opacity="0.9"/>
<rect x="263.0" y="356.3" width="4.5" height="89.0" fill="url(#shg)"/>
<rect x="221.2" y="353.8" width="41.8" height="91.5" fill="#7e76d8"/>
<polygon points="258.0,358.8 263.0,353.8 263.0,445.3 258.0,445.3" fill="url(#redge)"/>
<polygon points="221.2,353.8 222.7,355.3 222.7,445.3 221.2,445.3" fill="#5a51b0"/>
<rect x="221.2" y="443.7" width="41.8" height="1.6" fill="#4f46a2" opacity="0.85"/>
<polygon points="222.7,354.9 261.5,354.9 258.0,358.7 226.2,358.7" fill="url(#tbev)"/>
<rect x="221.2" y="353.8" width="41.8" height="1.2" fill="#6f67c6"/>
<rect x="278.4" y="334.3" width="1.6" height="111.0" fill="#fafaff" opacity="0.9"/>
<rect x="322.0" y="335.8" width="4.5" height="109.5" fill="url(#shg)"/>
<rect x="280.0" y="333.3" width="42.0" height="112.0" fill="#7e76d8"/>
<polygon points="317.0,338.3 322.0,333.3 322.0,445.3 317.0,445.3" fill="url(#redge)"/>
<polygon points="280.0,333.3 281.5,334.8 281.5,445.3 280.0,445.3" fill="#5a51b0"/>
<rect x="280.0" y="443.7" width="42.0" height="1.6" fill="#4f46a2" opacity="0.85"/>
<polygon points="281.5,334.4 320.5,334.4 317.0,338.2 285.0,338.2" fill="url(#tbev)"/>
<rect x="280.0" y="333.3" width="42.0" height="1.2" fill="#6f67c6"/>
<rect x="341.9" y="317.2" width="1.6" height="128.1" fill="#fafaff" opacity="0.9"/>
<rect x="385.2" y="318.7" width="4.5" height="126.6" fill="url(#shg)"/>
<rect x="343.5" y="316.2" width="41.7" height="129.1" fill="#7e76d8"/>
<polygon points="380.2,321.2 385.2,316.2 385.2,445.3 380.2,445.3" fill="url(#redge)"/>
<polygon points="343.5,316.2 345.0,317.7 345.0,445.3 343.5,445.3" fill="#5a51b0"/>
<rect x="343.5" y="443.7" width="41.7" height="1.6" fill="#4f46a2" opacity="0.85"/>
<polygon points="345.0,317.3 383.7,317.3 380.2,321.1 348.5,321.1" fill="url(#tbev)"/>
<rect x="343.5" y="316.2" width="41.7" height="1.2" fill="#6f67c6"/>
<rect x="407.4" y="301.0" width="1.6" height="144.3" fill="#fafaff" opacity="0.9"/>
<rect x="450.8" y="302.5" width="4.5" height="142.8" fill="url(#shg)"/>
<rect x="409.0" y="300.0" width="41.8" height="145.3" fill="#7e76d8"/>
<polygon points="445.8,305.0 450.8,300.0 450.8,445.3 445.8,445.3" fill="url(#redge)"/>
<polygon points="409.0,300.0 410.5,301.5 410.5,445.3 409.0,445.3" fill="#5a51b0"/>
<rect x="409.0" y="443.7" width="41.8" height="1.6" fill="#4f46a2" opacity="0.85"/>
<polygon points="410.5,301.1 449.3,301.1 445.8,304.9 414.0,304.9" fill="url(#tbev)"/>
<rect x="409.0" y="300.0" width="41.8" height="1.2" fill="#6f67c6"/>
<rect x="473.4" y="283.0" width="1.6" height="162.3" fill="#fafaff" opacity="0.9"/>
<rect x="516.9" y="284.5" width="4.5" height="160.8" fill="url(#shg)"/>
<rect x="475.0" y="282.0" width="41.9" height="163.3" fill="#7e76d8"/>
<polygon points="511.9,287.0 516.9,282.0 516.9,445.3 511.9,445.3" fill="url(#redge)"/>
<polygon points="475.0,282.0 476.5,283.5 476.5,445.3 475.0,445.3" fill="#5a51b0"/>
<rect x="475.0" y="443.7" width="41.9" height="1.6" fill="#4f46a2" opacity="0.85"/>
<polygon points="476.5,283.1 515.4,283.1 511.9,286.9 480.0,286.9" fill="url(#tbev)"/>
<rect x="475.0" y="282.0" width="41.9" height="1.2" fill="#6f67c6"/>
<rect x="535.9" y="257.8" width="1.6" height="187.5" fill="#fafaff" opacity="0.9"/>
<rect x="578.9" y="259.3" width="4.5" height="186.0" fill="url(#shg)"/>
<rect x="537.5" y="256.8" width="41.4" height="188.5" fill="#7e76d8"/>
<polygon points="573.9,261.8 578.9,256.8 578.9,445.3 573.9,445.3" fill="url(#redge)"/>
<polygon points="537.5,256.8 539.0,258.3 539.0,445.3 537.5,445.3" fill="#5a51b0"/>
<rect x="537.5" y="443.7" width="41.4" height="1.6" fill="#4f46a2" opacity="0.85"/>
<polygon points="539.0,257.9 577.4,257.9 573.9,261.7 542.5,261.7" fill="url(#tbev)"/>
<rect x="537.5" y="256.8" width="41.4" height="1.2" fill="#6f67c6"/>
<rect x="598.7" y="216.0" width="1.6" height="229.3" fill="#fafaff" opacity="0.9"/>
<rect x="641.9" y="217.5" width="4.5" height="227.8" fill="url(#shg)"/>
<rect x="600.3" y="215.0" width="41.6" height="230.3" fill="#7e76d8"/>
<polygon points="636.9,220.0 641.9,215.0 641.9,445.3 636.9,445.3" fill="url(#redge)"/>
<polygon points="600.3,215.0 601.8,216.5 601.8,445.3 600.3,445.3" fill="#5a51b0"/>
<rect x="600.3" y="443.7" width="41.6" height="1.6" fill="#4f46a2" opacity="0.85"/>
<polygon points="601.8,216.1 640.4,216.1 636.9,219.9 605.3,219.9" fill="url(#tbev)"/>
<rect x="600.3" y="215.0" width="41.6" height="1.2" fill="#6f67c6"/>
<rect x="663.3" y="194.7" width="1.6" height="250.6" fill="#fafaff" opacity="0.9"/>
<rect x="706.9" y="196.2" width="4.5" height="249.1" fill="url(#shg)"/>
<rect x="664.9" y="193.7" width="42.0" height="251.6" fill="#7e76d8"/>
<polygon points="701.9,198.7 706.9,193.7 706.9,445.3 701.9,445.3" fill="url(#redge)"/>
<polygon points="664.9,193.7 666.4,195.2 666.4,445.3 664.9,445.3" fill="#5a51b0"/>
<rect x="664.9" y="443.7" width="42.0" height="1.6" fill="#4f46a2" opacity="0.85"/>
<polygon points="666.4,194.8 705.4,194.8 701.9,198.6 669.9,198.6" fill="url(#tbev)"/>
<rect x="664.9" y="193.7" width="42.0" height="1.2" fill="#6f67c6"/>
<rect x="726.2" y="168.2" width="1.6" height="277.1" fill="#fafaff" opacity="0.9"/>
<rect x="769.2" y="169.7" width="4.5" height="275.6" fill="url(#shg)"/>
<rect x="727.8" y="167.2" width="41.4" height="278.1" fill="#7e76d8"/>
<polygon points="764.2,172.2 769.2,167.2 769.2,445.3 764.2,445.3" fill="url(#redge)"/>
<polygon points="727.8,167.2 729.3,168.7 729.3,445.3 727.8,445.3" fill="#5a51b0"/>
<rect x="727.8" y="443.7" width="41.4" height="1.6" fill="#4f46a2" opacity="0.85"/>
<polygon points="729.3,168.3 767.7,168.3 764.2,172.1 732.8,172.1" fill="url(#tbev)"/>
<rect x="727.8" y="167.2" width="41.4" height="1.2" fill="#6f67c6"/>
<rect x="787.2" y="131.8" width="1.6" height="313.5" fill="#fafaff" opacity="0.9"/>
<rect x="830.7" y="133.3" width="4.5" height="312.0" fill="url(#shg)"/>
<rect x="788.8" y="130.8" width="41.9" height="314.5" fill="#7e76d8"/>
<polygon points="825.7,135.8 830.7,130.8 830.7,445.3 825.7,445.3" fill="url(#redge)"/>
<polygon points="788.8,130.8 790.3,132.3 790.3,445.3 788.8,445.3" fill="#5a51b0"/>
<rect x="788.8" y="443.7" width="41.9" height="1.6" fill="#4f46a2" opacity="0.85"/>
<polygon points="790.3,131.9 829.2,131.9 825.7,135.7 793.8,135.7" fill="url(#tbev)"/>
<rect x="788.8" y="130.8" width="41.9" height="1.2" fill="#6f67c6"/>
<!-- labels -->
<text x="242.6" y="319" class="val">USD 5,372.0</text>
<text x="242.7" y="337.9" class="val">Million</text>
<text x="808" y="96.6" class="val">USD 10,738.6</text>
<text x="807.7" y="114.5" class="val">Million</text>
<text x="238.4" y="463.7" class="yr">2024</text>
<text x="300.1" y="465.1" class="yr">2025</text>
<text x="363.4" y="463.7" class="yr">2026</text>
<text x="430.5" y="466.1" class="yr">2027</text>
<text x="495.0" y="466.1" class="yr">2028</text>
<text x="558.8" y="464.7" class="yr">2029</text>
<text x="621.2" y="464.7" class="yr">2030</text>
<text x="686.0" y="464.7" class="yr">2031</text>
<text x="752.8" y="464.7" class="yr">2032</text>
<text x="809.75" y="464.7" class="yr">2033</text>
</svg>
</body></html>
